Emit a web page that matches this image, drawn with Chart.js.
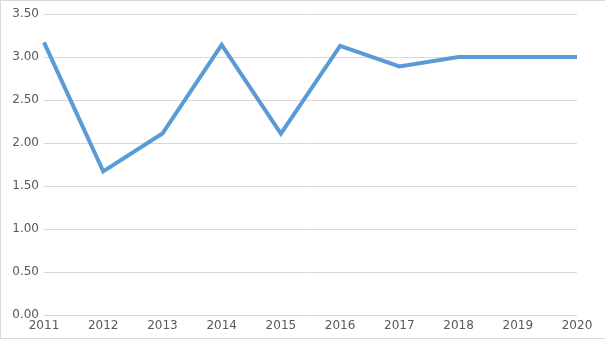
<!DOCTYPE html>
<html>
<head>
<meta charset="utf-8">
<script src="https://cdn.jsdelivr.net/npm/chart.js@4"></script>
<style>
html,body{margin:0;padding:0;background:#fff;}
canvas{display:block;}
</style>
</head>
<body>
<canvas id="c" width="605" height="340"></canvas>
<script>
const categories = ['2011','2012','2013','2014','2015','2016','2017','2018','2019','2020'];
const values = [3.17, 1.67, 2.11, 3.14, 2.11, 3.13, 2.89, 3.00, 3.00, 3.00];
const yMin = 0, yMax = 3.5, yStep = 0.5;

const borderPlugin = {
  id: 'frame',
  afterDraw(chart) {
    const ctx = chart.ctx;
    ctx.save();
    ctx.strokeStyle = '#d9d9d9';
    ctx.lineWidth = 1;
    ctx.strokeRect(0.5, 0.5, 610, 338);
    ctx.restore();
  }
};

const tickFont = { family: "'DejaVu Sans', sans-serif", size: 12 };

new Chart(document.getElementById('c'), {
  type: 'line',
  data: {
    labels: categories,
    datasets: [{
      data: values,
      borderColor: '#5B9BD5',
      borderWidth: 4,
      pointRadius: 0,
      tension: 0,
      fill: false
    }]
  },
  options: {
    responsive: false,
    animation: false,
    layout: { padding: { top: 14, right: 28, left: 0, bottom: 0 } },
    plugins: { legend: { display: false }, tooltip: { enabled: false } },
    scales: {
      x: {
        offset: false,
        grid: { display: false, drawTicks: false },
        border: { display: false },
        ticks: { color: '#595959', font: tickFont, padding: 4, maxRotation: 0, autoSkip: false },
        afterFit(s) { s.height = 25; }
      },
      y: {
        min: yMin, max: yMax,
        grid: { color: '#d9d9d9', drawTicks: false, lineWidth: 1 },
        border: { display: false },
        ticks: {
          stepSize: yStep,
          color: '#595959',
          font: tickFont,
          padding: 5,
          callback: v => Number(v).toFixed(2)
        },
        afterFit(s) { s.width = 44; }
      }
    }
  },
  plugins: [borderPlugin]
});
</script>
</body>
</html>
